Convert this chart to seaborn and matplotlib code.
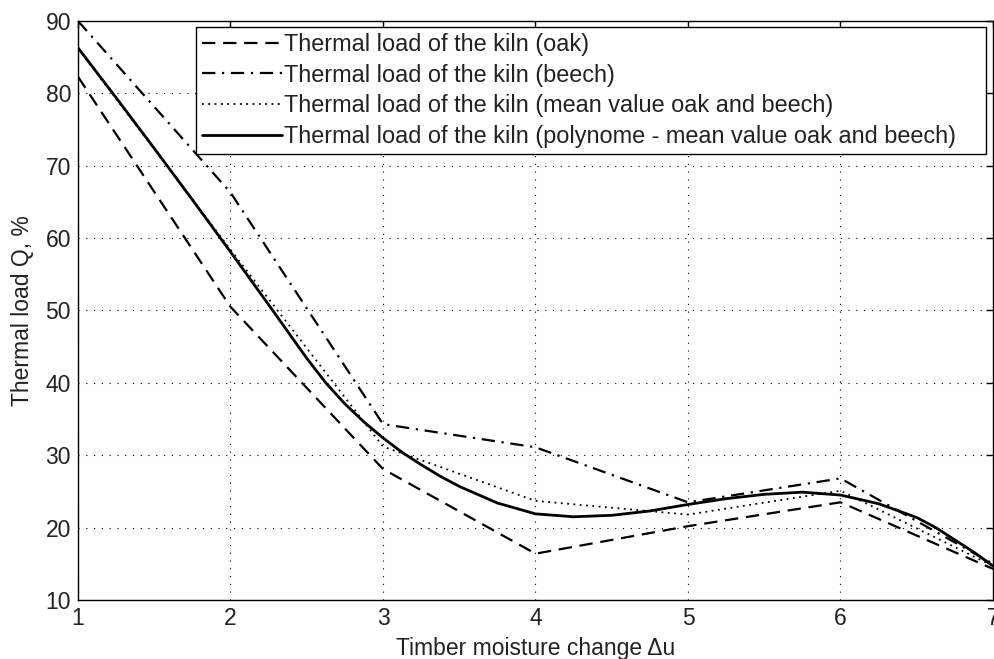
import matplotlib
matplotlib.use("Agg")
import matplotlib.pyplot as plt
import seaborn as sns
import pandas as pd
from matplotlib import font_manager

# ---- data ----
moisture = [1, 2, 3, 4, 5, 6, 7]
oak = [82.3, 50.5, 28.1, 16.4, 20.2, 23.5, 14.3]
beech = [90.0, 66.3, 34.3, 31.1, 23.5, 26.8, 15.0]
mean_val = [86.2, 58.4, 31.2, 23.7, 21.8, 25.1, 14.7]
poly_x = [1, 1.25, 1.5, 1.75, 2, 2.25, 2.5, 2.625, 2.75, 2.875, 3, 3.125,
          3.25, 3.375, 3.5, 3.75, 4, 4.25, 4.5, 4.75, 5, 5.25, 5.5, 5.75, 6,
          6.25, 6.5, 6.625, 6.75, 6.875, 7]
poly_y = [86.3, 79.4, 72.4, 65.3, 58.1, 50.8, 43.4, 40.0, 37.1, 34.6, 32.4,
          30.4, 28.7, 27.1, 25.7, 23.4, 21.9, 21.5, 21.7, 22.3, 23.2, 24.0,
          24.6, 24.9, 24.5, 23.3, 21.4, 20.0, 18.3, 16.6, 14.7]
labels = ["Thermal load of the kiln (oak)",
          "Thermal load of the kiln (beech)",
          "Thermal load of the kiln (mean value oak and beech)",
          "Thermal load of the kiln (polynome - mean value oak and beech)"]
xticks = [1, 2, 3, 4, 5, 6, 7]
yticks = [10, 20, 30, 40, 50, 60, 70, 80, 90]

sns.set_theme(style="white")
names = {f.name for f in font_manager.fontManager.ttflist}
base_font = "Liberation Sans" if "Liberation Sans" in names else "DejaVu Sans"
plt.rcParams["font.family"] = [base_font, "DejaVu Sans"]
FS = 16.5
LFS = 16.9

fig = plt.figure(figsize=(9.94, 6.59), dpi=100)
ax = fig.add_axes([78 / 994, 1 - 600 / 659, 915 / 994, 579 / 659])

df_pts = pd.DataFrame({"x": moisture, "oak": oak, "beech": beech, "mean": mean_val})
df_poly = pd.DataFrame({"x": poly_x, "y": poly_y})

sns.lineplot(data=df_pts, x="x", y="oak", ax=ax, color="black", lw=1.6,
             linestyle=(0, (6, 3.5)), label=labels[0])
sns.lineplot(data=df_pts, x="x", y="beech", ax=ax, color="black", lw=1.6,
             linestyle=(0, (6, 3, 1, 3)), label=labels[1])
sns.lineplot(data=df_pts, x="x", y="mean", ax=ax, color="black", lw=1.3,
             linestyle=(0, (1, 2.5)), label=labels[2])
sns.lineplot(data=df_poly, x="x", y="y", ax=ax, color="black", lw=2.0,
             linestyle="-", label=labels[3])

ax.set_xlim(1, 7)
ax.set_ylim(10, 90)
ax.set_xticks(xticks)
ax.set_yticks(yticks)
ax.tick_params(direction="in", length=5, width=1, top=True, right=True,
               labelsize=FS, colors="black", labelcolor="#222222", pad=5)
ax.grid(True, color="black", linestyle=(0, (1, 6)), lw=0.8)
for s in ax.spines.values():
    s.set_color("black")
    s.set_linewidth(1.0)
ax.set_xlabel("Timber moisture change Δu", fontsize=FS, color="#222222", labelpad=5)
ax.set_ylabel("Thermal load Q, %", fontsize=FS, color="#222222", labelpad=8)

leg = ax.legend(loc="upper left", bbox_to_anchor=(0.129, 0.772, 0.863, 0.2176),
                mode="expand", frameon=True, fancybox=False, framealpha=1,
                edgecolor="black", handlelength=3.4, handletextpad=0.1,
                labelspacing=0.33, borderpad=0.25, borderaxespad=0,
                prop={"family": base_font, "size": LFS})
leg.get_frame().set_linewidth(1.0)
for t in leg.get_texts():
    t.set_color("#222222")

fig.savefig("out.png", dpi=100)
